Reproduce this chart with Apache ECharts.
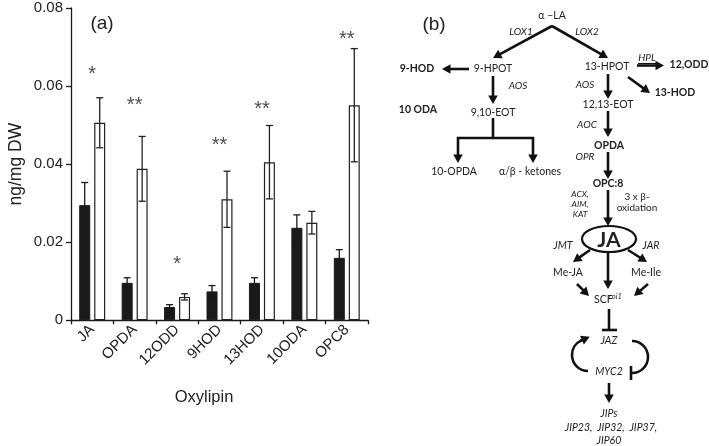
<!DOCTYPE html>
<html><head><meta charset="utf-8">
<script src="https://cdn.jsdelivr.net/npm/echarts@6/dist/echarts.min.js"></script>
<style>html,body{margin:0;padding:0;background:#fff}#c{width:709px;height:446px}</style>
</head><body><div id="c"></div>
<script>
const categories = ['JA','OPDA','12ODD','9HOD','13HOD','10ODA','OPC8'];
const controlMean = [0.0295, 0.0096, 0.0034, 0.0074, 0.0096, 0.0237, 0.0160];
const controlErr  = [0.0058, 0.0013, 0.0006, 0.0015, 0.0013, 0.0033, 0.0021];
const treatedMean = [0.0506, 0.0388, 0.0060, 0.0310, 0.0405, 0.0250, 0.0551];
const treatedErr  = [0.0064, 0.0083, 0.0008, 0.0072, 0.0094, 0.0029, 0.0145];
const stars  = ['*','**','*','**','**','','**'];
const starY  = [0.0643, 0.0562, 0.0155, 0.0460, 0.0552, null, 0.0731];
const yMin = 0, yMax = 0.08, yStep = 0.02;

const INK = '#1a1a1a';
const SANS = 'Liberation Sans, Arial, sans-serif';
const DFONT = 'Lato, Open Sans, sans-serif';

function errSeries(mean, err, offset, color){
  return {
    type:'custom', z:5, silent:true,
    data: mean.map((m,i)=>[i, m, err[i]]),
    renderItem(params, api){
      const i = api.value(0), m = api.value(1), e = api.value(2);
      const x = api.coord([i, 0])[0] + offset;
      const yt = api.coord([i, m+e])[1];
      const yb = api.coord([i, m-e])[1];
      const cw = 3.5;
      const st = {stroke:color, lineWidth:1.3};
      return {type:'group', children:[
        {type:'line', shape:{x1:x,y1:yt,x2:x,y2:yb}, style:st},
        {type:'line', shape:{x1:x-cw,y1:yt,x2:x+cw,y2:yt}, style:st},
        {type:'line', shape:{x1:x-cw,y1:yb,x2:x+cw,y2:yb}, style:st}
      ]};
    }
  };
}

// ---------- diagram helpers ----------
const g = [];
function arrow(x1,y1,x2,y2){
  const dx=x2-x1, dy=y2-y1, L=Math.hypot(dx,dy), ux=dx/L, uy=dy/L;
  const hl=8.5, hw=4.8;
  const bx=x2-ux*hl, by=y2-uy*hl;
  g.push({type:'line', shape:{x1,y1,x2:bx+ux,y2:by+uy}, style:{stroke:'#111', lineWidth:2.6}});
  g.push({type:'polygon', shape:{points:[[x2,y2],[bx-uy*hw,by+ux*hw],[bx+uy*hw,by-ux*hw]]}, style:{fill:'#111'}});
}
function line(x1,y1,x2,y2,w){
  g.push({type:'line', shape:{x1,y1,x2,y2}, style:{stroke:'#111', lineWidth:w||2.6}});
}
function txt(x,y,text,o){
  o=o||{};
  g.push({type:'text', x, y, style:{text, fill:'#222', fontSize:o.size||10.5,
    fontFamily:o.family||DFONT, fontWeight:o.bold?'bold':'normal', fontStyle:o.it?'italic':'normal',
    align:o.align||'center', verticalAlign:'middle'}});
}

// panel labels / axis names
txt(102, 24, '(a)', {size:19, family:SANS});
txt(434, 25, '(b)', {size:19, family:SANS});
txt(204, 397, 'Oxylipin', {size:16.5, family:SANS});

// pathway
txt(552, 16, 'α –LA', {size:10.5});
arrow(552,26,493,58);
arrow(552,26,608,58);
txt(521, 32, 'LOX1', {it:true, size:10});
txt(587, 32, 'LOX2', {it:true, size:10});
txt(493, 69, '9-HPOT');
txt(417, 69, '9-HOD', {bold:true});
arrow(469,69,442,69);
txt(518, 86, 'AOS', {it:true, size:10});
arrow(493,76,493,104);
txt(493, 113, '9,10-EOT');
txt(418, 110, '10 ODA', {bold:true});
line(493,118,493,138);
line(457,138,534,138);
arrow(458,137,458,163);
arrow(533,137,533,163);
txt(454, 172, '10-OPDA');
txt(530, 172, 'α/β - ketones');

txt(607, 67, '13-HPOT');
txt(647, 58, 'HPL', {it:true, size:10});
line(638,63.5,656,63.5,1);
arrow(637,65.5,664,65.5);
txt(689, 65, '12,ODD', {bold:true});
arrow(628,77,650,93);
txt(675, 93, '13-HOD', {bold:true});
txt(585, 85, 'AOS', {it:true, size:10});
arrow(608,74,608,99);
txt(608, 105, '12,13-EOT');
txt(587, 125, 'AOC', {it:true, size:10});
arrow(608,111,608,137);
txt(609, 146, 'OPDA', {bold:true});
txt(585, 157, 'OPR', {it:true, size:10});
arrow(608,152,608,179);
txt(608, 184, 'OPC:8', {bold:true});
txt(580, 194, 'ACX,', {it:true, size:8.5});
txt(580, 204, 'AIM,', {it:true, size:8.5});
txt(580, 214, 'KAT', {it:true, size:8.5});
txt(637, 197, '3 x β-', {size:10});
txt(637, 208, 'oxidation', {size:10});
arrow(608,190,608,226);
g.push({type:'ellipse', shape:{cx:609, cy:239, rx:27, ry:13}, style:{stroke:'#111', lineWidth:2.2, fill:'#fff'}});
txt(609, 240, 'JA', {bold:true, size:21});
txt(563, 246, 'JMT', {it:true, size:10.5});
txt(651, 246, 'JAR', {it:true, size:10.5});
arrow(590,250,573,262);
arrow(628,250,647,262);
arrow(608,252,608,289);
txt(568, 273, 'Me-JA');
txt(646, 273, 'Me-Ile');
arrow(577,284,589,296);
arrow(648,284,634,296);
txt(594, 299.5, 'SCF', {align:'left'});
txt(608.5, 296.5, 'coi1', {it:true, size:7.5, align:'left'});
line(609,309,609,330);
line(602,330,617,330);
txt(609, 341, 'JAZ', {it:true});
txt(609, 372, 'MYC2', {it:true});
// cycle arcs
(function(){
  const cx=588, cy=355, r=16, th=1.5*Math.PI-0.42;
  g.push({type:'arc', shape:{cx, cy, r, startAngle:0.5*Math.PI, endAngle:th, clockwise:true}, style:{stroke:'#111', lineWidth:2.6, fill:null}});
  const px=cx+r*Math.cos(th), py=cy+r*Math.sin(th);
  const tx=-Math.sin(th), ty=Math.cos(th);
  arrow(px-tx, py-ty, px+tx*9, py+ty*9);
  const cx2=632, cy2=357;
  g.push({type:'arc', shape:{cx:cx2, cy:cy2, r, startAngle:-0.5*Math.PI, endAngle:0.5*Math.PI, clockwise:true}, style:{stroke:'#111', lineWidth:2.6, fill:null}});
  line(631,366,631,380);
})();
arrow(609,383,609,403);
txt(609, 414, 'JIPs', {it:true});
txt(611, 428, 'JIP23,  JIP32,  JIP37,', {it:true});
txt(609, 441, 'JIP60', {it:true});

const chart = echarts.init(document.getElementById('c'), null, {renderer:'canvas'});
chart.setOption({
  animation:false,
  backgroundColor:'#fff',
  grid:{left:71, top:8, width:297, height:312.3, containLabel:false},
  xAxis:{type:'category', data:categories, boundaryGap:true,
    axisLine:{lineStyle:{color:INK, width:1.3}},
    axisTick:{show:true, length:4, alignWithLabel:false, lineStyle:{color:INK, width:1.3}},
    axisLabel:{rotate:45, fontSize:15, color:'#222', fontFamily:SANS, margin:7, interval:0},
    splitLine:{show:false}},
  yAxis:{type:'value', min:yMin, max:yMax, interval:yStep,
    name:'ng/mg DW', nameLocation:'middle', nameGap:46, nameRotate:90,
    nameTextStyle:{fontSize:17.5, color:'#222', fontFamily:SANS},
    axisLine:{show:true, lineStyle:{color:INK, width:1.3}},
    axisTick:{show:true, length:5, lineStyle:{color:INK, width:1.3}},
    axisLabel:{fontSize:15, color:'#222', fontFamily:SANS, margin:8,
      formatter:v=> v===0 ? '0' : v.toFixed(2)},
    splitLine:{show:false}},
  series:[
    {type:'bar', data:controlMean, barWidth:11, barGap:'36%',
      itemStyle:{color:INK, borderColor:INK, borderWidth:1}},
    {type:'bar', data:treatedMean, barWidth:11,
      itemStyle:{color:'#fff', borderColor:'#222', borderWidth:1.2}},
    errSeries(controlMean, controlErr, -7.5, INK),
    errSeries(treatedMean, treatedErr, 7.5, '#222'),
    {type:'scatter', symbolSize:0, silent:true, z:6,
      data: starY.map((v,i)=> v==null ? null : {value:[i, v], text:stars[i]}).filter(d=>d),
      label:{show:true, position:'inside', formatter:p=>p.data.text, fontSize:20, color:'#222', fontFamily:SANS, offset:[0,5]}}
  ],
  graphic:g
});
</script></body></html>
